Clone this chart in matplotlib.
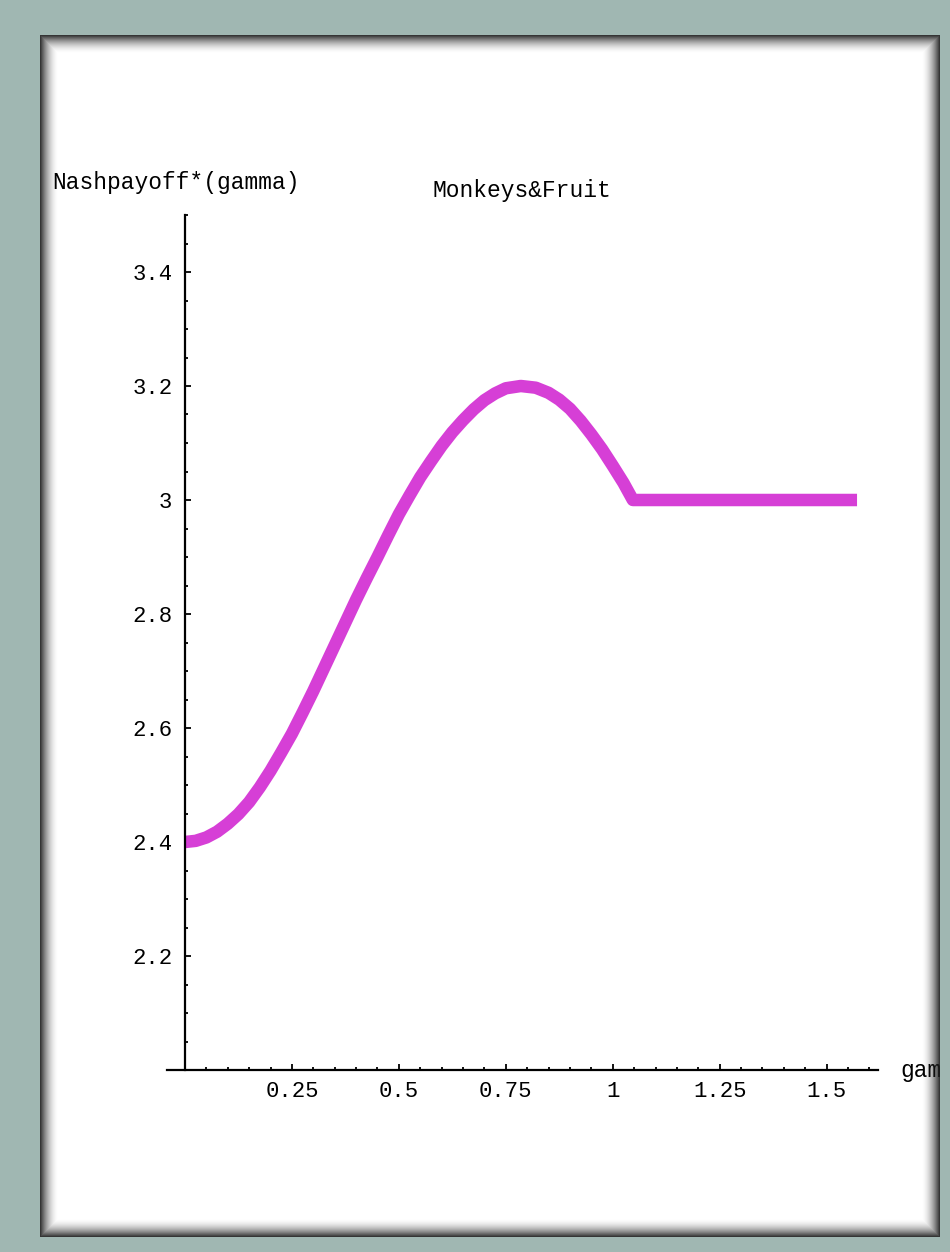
import numpy as np
import matplotlib
matplotlib.use('Agg')
import matplotlib.pyplot as plt
from matplotlib.ticker import FixedLocator, FixedFormatter, MultipleLocator

# values
gamma = [0.0, 0.025, 0.05, 0.075, 0.10, 0.125, 0.15, 0.175, 0.20, 0.225,
         0.25, 0.275, 0.30, 0.325, 0.35, 0.375, 0.40, 0.425, 0.45, 0.475,
         0.50, 0.525, 0.55, 0.575, 0.60, 0.625, 0.65, 0.675, 0.70, 0.725,
         0.75, 0.785, 0.82, 0.85, 0.875, 0.90, 0.925, 0.95, 0.975, 1.00,
         1.025, 1.047, 1.30, 1.571]
payoff = [2.400, 2.402, 2.408, 2.418, 2.432, 2.449, 2.470, 2.496, 2.525, 2.557,
          2.590, 2.627, 2.665, 2.705, 2.745, 2.785, 2.825, 2.863, 2.900, 2.938,
          2.975, 3.008, 3.040, 3.068, 3.095, 3.119, 3.140, 3.159, 3.175, 3.187,
          3.196, 3.200, 3.197, 3.188, 3.176, 3.160, 3.139, 3.115, 3.089, 3.060,
          3.030, 3.000, 3.000, 3.000]

x_ticks = [0.25, 0.5, 0.75, 1.0, 1.25, 1.5]
x_labels = ['0.25', '0.5', '0.75', '1', '1.25', '1.5']
y_ticks = [2.2, 2.4, 2.6, 2.8, 3.0, 3.2, 3.4]
y_labels = ['2.2', '2.4', '2.6', '2.8', '3', '3.2', '3.4']

plt.rcParams['font.family'] = ['Liberation Mono', 'DejaVu Sans Mono']

W, H = 950, 1252
fig = plt.figure(figsize=(W / 100, H / 100), dpi=100)
fig.patch.set_facecolor('white')

ax = fig.add_axes([167 / W, 182 / H, 711 / W, 855 / H])
ax.plot(gamma, payoff, color='#d63fd6', lw=9,
        solid_capstyle='butt', solid_joinstyle='round')

ax.set_xlim(-0.042, 1.62)
ax.set_ylim(2.0, 3.5)

for s in ['top', 'right']:
    ax.spines[s].set_visible(False)
ax.spines['left'].set_position(('data', 0))
for s in ['left', 'bottom']:
    ax.spines[s].set_linewidth(1.6)
    ax.spines[s].set_color('black')

ax.xaxis.set_major_locator(FixedLocator(x_ticks))
ax.xaxis.set_major_formatter(FixedFormatter(x_labels))
ax.xaxis.set_minor_locator(MultipleLocator(0.05))
ax.yaxis.set_major_locator(FixedLocator(y_ticks))
ax.yaxis.set_major_formatter(FixedFormatter(y_labels))
ax.yaxis.set_minor_locator(MultipleLocator(0.05))

ax.tick_params(which='both', direction='in', width=1.3, color='black',
               labelsize=16)
ax.tick_params(which='major', length=4.5)
ax.tick_params(which='minor', length=2.5)
ax.tick_params(axis='x', pad=8)
ax.tick_params(axis='y', pad=9)

fig.text(52 / W, 1 - 183 / H, 'Nashpayoff*(gamma)', ha='left', va='center',
         fontsize=16.5)
fig.text(522 / W, 1 - 190 / H, 'Monkeys&Fruit', ha='center', va='center',
         fontsize=16.5)
# the window edge cuts this label, as in the original
fig.text(900 / W, 1 - 1070 / H, 'gamma', ha='left', va='center', fontsize=16.5)

# window frame with inner shadow drawn on top
yy, xx = np.mgrid[0:H, 0:W]
L, R, T, B = 40, 940, 35, 1237
inside = (xx >= L) & (xx < R) & (yy >= T) & (yy < B)
d = np.minimum.reduce([xx - L, R - 1 - xx, yy - T, B - 1 - yy]).astype(float)
shade = np.clip(1 - d / 18, 0, 1) ** 1.8 * 0.9

overlay = np.zeros((H, W, 4))
overlay[..., 0] = np.where(inside, 0.12, 0.63)
overlay[..., 1] = np.where(inside, 0.12, 0.72)
overlay[..., 2] = np.where(inside, 0.12, 0.70)
overlay[..., 3] = np.where(inside, shade, 1.0)
fig.figimage(overlay, xo=0, yo=0, origin='upper', zorder=10)

fig.savefig('out.png', dpi=100)
